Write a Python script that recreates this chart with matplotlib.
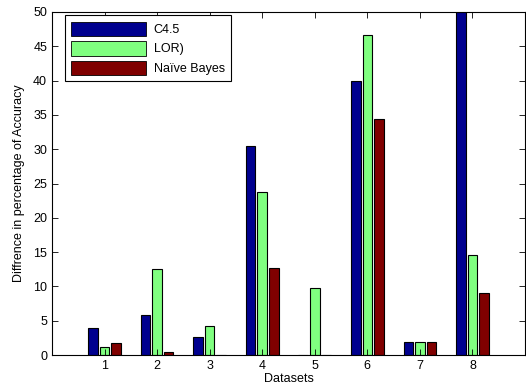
import matplotlib.pyplot as plt
from matplotlib.patches import Rectangle
import numpy as np

plt.rcParams['font.family'] = ['Liberation Sans', 'DejaVu Sans']
plt.rcParams['font.size'] = 9

datasets = [1, 2, 3, 4, 5, 6, 7, 8]
c45 = [4.0, 5.9, 2.6, 30.4, 0.0, 40.0, 1.9, 52.0]
lor = [1.1, 12.5, 4.3, 23.8, 9.7, 46.6, 1.9, 14.6]
naive_bayes = [1.7, 0.4, 0.0, 12.7, 0.0, 34.4, 1.9, 9.0]

names = ['C4.5', 'LOR)', 'Naïve Bayes']
colors = ['#00008f', '#80ff80', '#800000']

fig = plt.figure(figsize=(5.26, 3.92), dpi=100)
ax = fig.add_axes([52 / 526, 37 / 392, 473 / 526, 343 / 392])

x = np.array(datasets)
width = 0.18
offset = 0.22
for i, (vals, col, name) in enumerate(zip([c45, lor, naive_bayes], colors, names)):
    ax.bar(x + (i - 1) * offset, vals, width, color=col, edgecolor='black',
           linewidth=0.8, label=name)

ax.set_xlim(0, 9)
ax.set_ylim(0, 50)
ax.set_xticks(datasets)
ax.set_yticks(range(0, 51, 5))
ax.tick_params(direction='in', top=True, right=True, length=4, width=0.6)
for s in ax.spines.values():
    s.set_linewidth(0.8)
ax.set_xlabel('Datasets', labelpad=1)
ax.set_ylabel('Diffrence in percentage of Accuracy', labelpad=6)

handles = [Rectangle((0, 0), 1, 1, facecolor=c, edgecolor='black', linewidth=0.6)
           for c in colors]
leg = ax.legend(handles, names, loc='upper left', bbox_to_anchor=(0.027, 0.99),
                fancybox=False, edgecolor='black', framealpha=1,
                handlelength=6, handleheight=1.4, borderaxespad=0,
                labelspacing=0.4, handletextpad=0.6, borderpad=0.5)
leg.get_frame().set_linewidth(0.8)

fig.savefig('out.png', dpi=100, facecolor='white')
